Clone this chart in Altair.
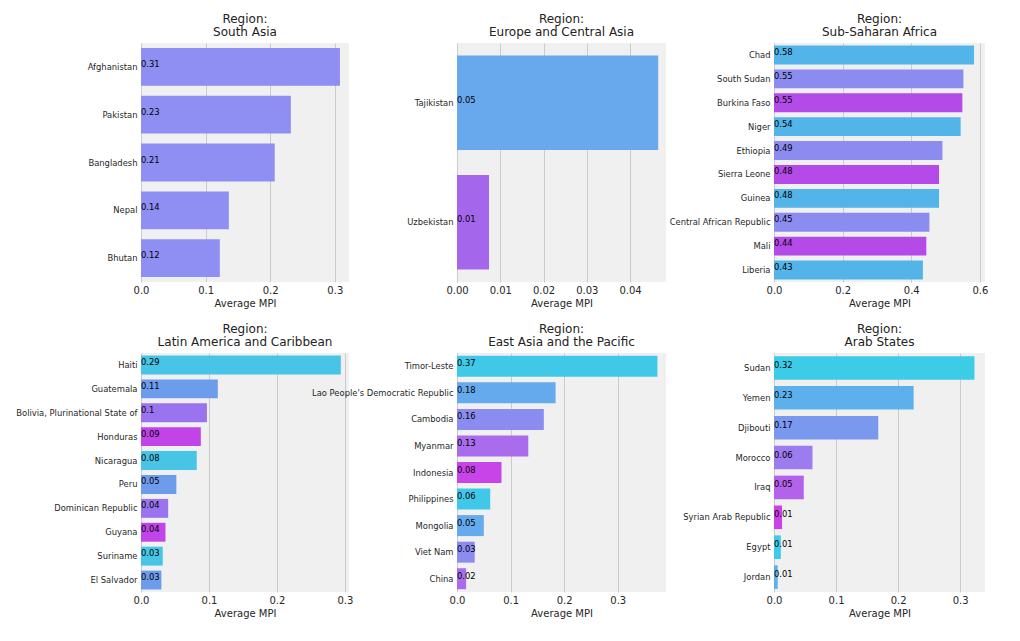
import altair as alt
import pandas as pd

# ---------------- data ----------------
regions = [
    "South Asia",
    "Europe and Central Asia",
    "Sub-Saharan Africa",
    "Latin America and Caribbean",
    "East Asia and the Pacific",
    "Arab States",
]

sa_countries = ["Afghanistan", "Pakistan", "Bangladesh", "Nepal", "Bhutan"]
sa_values = [0.308, 0.232, 0.207, 0.136, 0.122]

eca_countries = ["Tajikistan", "Uzbekistan"]
eca_values = [0.0465, 0.0074]

ssa_countries = ["Chad", "South Sudan", "Burkina Faso", "Niger", "Ethiopia",
                 "Sierra Leone", "Guinea", "Central African Republic", "Mali", "Liberia"]
ssa_values = [0.583, 0.552, 0.549, 0.544, 0.491, 0.481, 0.481, 0.453, 0.444, 0.434]

lac_countries = ["Haiti", "Guatemala", "Bolivia, Plurinational State of", "Honduras",
                 "Nicaragua", "Peru", "Dominican Republic", "Guyana", "Suriname", "El Salvador"]
lac_values = [0.294, 0.113, 0.097, 0.088, 0.082, 0.052, 0.040, 0.036, 0.032, 0.030]

eap_countries = ["Timor-Leste", "Lao People's Democratic Republic", "Cambodia", "Myanmar",
                 "Indonesia", "Philippines", "Mongolia", "Viet Nam", "China"]
eap_values = [0.374, 0.184, 0.162, 0.133, 0.083, 0.062, 0.050, 0.033, 0.017]

as_countries = ["Sudan", "Yemen", "Djibouti", "Morocco", "Iraq",
                "Syrian Arab Republic", "Egypt", "Jordan"]
as_values = [0.323, 0.225, 0.168, 0.062, 0.048, 0.013, 0.011, 0.006]

# colour cycles (one palette per panel)
sa_palette = ["#8f8ef2"]
eca_palette = ["#68a8ec", "#a467ec"]
ssa_palette = ["#52b4e8", "#8c8cf0", "#b44ae8"]
lac_palette = ["#48c4e6", "#6e9cec", "#9a74ee", "#c044e8"]
eap_palette = ["#40c8e8", "#64aaec", "#8c8cf0", "#a86cec", "#c844e8"]
as_palette = ["#3ccce8", "#5cb0ec", "#7a98ee", "#9c7cee", "#b462ec", "#cc40e8"]

# axis settings per panel
x_domains = [[0, 0.322], [0, 0.0483], [0, 0.615], [0, 0.306], [0, 0.390], [0, 0.340]]
x_ticks = [[0.0, 0.1, 0.2, 0.3], [0.0, 0.01, 0.02, 0.03, 0.04], [0.0, 0.2, 0.4, 0.6],
           [0.0, 0.1, 0.2, 0.3], [0.0, 0.1, 0.2, 0.3], [0.0, 0.1, 0.2, 0.3]]
x_formats = [".1f", ".2f", ".1f", ".1f", ".1f", ".1f"]
col_widths = [208, 209, 211]

FONT = "DejaVu Sans"

all_countries = [sa_countries, eca_countries, ssa_countries, lac_countries, eap_countries, as_countries]
all_values = [sa_values, eca_values, ssa_values, lac_values, eap_values, as_values]
all_palettes = [sa_palette, eca_palette, ssa_palette, lac_palette, eap_palette, as_palette]


def panel(i):
    countries = all_countries[i]
    values = all_values[i]
    pal = all_palettes[i]
    colors = [pal[k % len(pal)] for k in range(len(countries))]
    df = pd.DataFrame({"country": countries, "mpi": values, "color": colors})

    base = alt.Chart(df).encode(
        y=alt.Y(
            "country:N",
            sort=countries,
            title=None,
            scale=alt.Scale(paddingInner=0.21, paddingOuter=0.105),
            axis=alt.Axis(
                labelFontSize=8.4,
                labelColor="#262626",
                labelPadding=4,
                labelLimit=300,
                domain=False,
                ticks=False,
                grid=False,
            ),
        )
    )
    bars = base.mark_bar().encode(
        x=alt.X(
            "mpi:Q",
            scale=alt.Scale(domain=x_domains[i], nice=False, zero=True),
            axis=alt.Axis(
                values=x_ticks[i],
                format=x_formats[i],
                title="Average MPI",
                labelFontSize=10,
                titleFontSize=10,
                labelColor="#262626",
                titleColor="#262626",
                titleFontWeight="normal",
                labelPadding=3,
                titlePadding=3,
                domain=False,
                ticks=False,
                grid=True,
                gridColor="#cbcbcb",
                gridWidth=1,
                labelFlush=False,
            ),
        ),
        color=alt.Color("color:N", scale=None, legend=None),
    )
    text = base.mark_text(
        align="left", baseline="alphabetic", fontSize=8.4, color="black", font=FONT
    ).encode(
        x=alt.value(0),
        text=alt.Text("mpi:Q", format=".2~f"),
    )
    return alt.layer(bars, text).properties(
        width=col_widths[i % 3],
        height=239,
        title=alt.TitleParams(["Region:", regions[i]]),
    )


chart = (
    alt.concat(*[panel(i) for i in range(6)], columns=3,
               spacing={"row": 71, "column": 108}, bounds="flush")
    .properties(
        padding={"left": 15, "top": 12, "right": 5, "bottom": 5},
        background="white",
    )
    .configure_view(fill="#f0f0f0", stroke=None)
    .configure_axis(labelFont=FONT, titleFont=FONT)
    .configure_title(
        font=FONT, fontSize=12, fontWeight="normal", color="#222222",
        anchor="middle", offset=0, lineHeight=13.5,
    )
)

chart.save("out.html", embed_options={"renderer": "svg", "actions": False})
